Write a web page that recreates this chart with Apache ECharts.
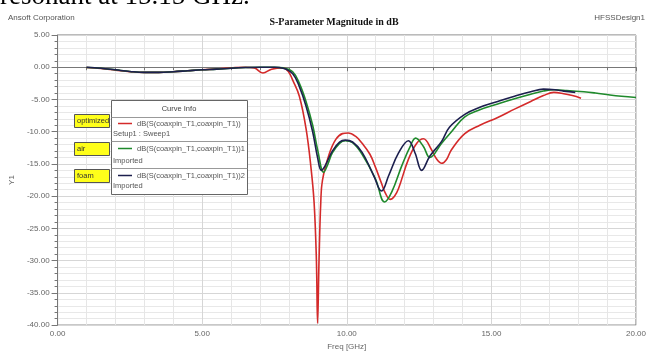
<!DOCTYPE html>
<html><head><meta charset="utf-8">
<script src="https://cdn.jsdelivr.net/npm/echarts@6/dist/echarts.min.js"></script>
<style>html,body{margin:0;padding:0;background:#fff}#c{width:649px;height:356px}</style>
</head><body><div id="c"></div>
<script>
// ---- data ----
const xTicks = ['0.00','5.00','10.00','15.00','20.00'];
const seriesNames = ['optimized','air','foam'];
const curveLabels = ['dB(S(coaxpin_T1,coaxpin_T1))','dB(S(coaxpin_T1,coaxpin_T1))1','dB(S(coaxpin_T1,coaxpin_T1))2'];
const curveSub = ['Setup1 : Sweep1','Imported','Imported'];

const freqOptimized = [1.0,1.5,2.0,2.5,3.0,3.5,4.0,4.5,5.0,5.5,6.0,6.5,6.8,7.1,7.4,7.8,8.0,8.13,8.36,8.59,8.76,8.87,8.95,8.99,9.04,9.1,9.16,9.39,9.62,9.85,10.05,10.3,10.53,10.8,10.99,11.2,11.33,11.5,11.65,11.79,12.13,12.42,12.65,12.93,13.1,13.28,13.45,13.62,14.08,14.6,15.22,15.8,16.36,16.8,17.16,17.5,17.8,18.1];
const dbOptimized = [-0.05,-0.2,-0.45,-0.7,-0.8,-0.8,-0.7,-0.55,-0.4,-0.25,-0.1,0.0,-0.1,-0.9,-0.3,-0.1,-0.8,-2.0,-4.5,-9.5,-15.5,-21,-30,-39.7,-30,-21,-17.5,-13.5,-11.2,-10.3,-10.2,-10.7,-11.8,-13.5,-15.5,-18,-19.5,-20.5,-20.0,-18.8,-14.3,-11.8,-11.1,-12.8,-14.2,-14.9,-14.3,-12.8,-10.3,-9.0,-7.8,-6.5,-5.3,-4.4,-3.9,-4.1,-4.4,-4.8];

const freqAir = [1.0,1.5,2.0,2.5,3.0,3.5,4.0,4.5,5.0,5.5,6.0,6.5,7.0,7.5,7.8,8.13,8.36,8.59,8.82,9.0,9.2,9.35,9.5,9.75,9.95,10.2,10.53,10.99,11.31,11.56,11.9,12.19,12.38,12.65,12.87,13.28,13.62,14.08,14.6,15.22,15.8,16.36,16.8,17.16,17.6,18.2,18.6,19.1,19.5,20.0];
const dbAir = [-0.05,-0.15,-0.4,-0.65,-0.8,-0.8,-0.7,-0.55,-0.4,-0.3,-0.15,-0.05,0.0,0.0,-0.1,-0.7,-2.5,-5.3,-9.0,-13.0,-16.3,-15.0,-13.3,-11.8,-11.4,-11.7,-13.5,-17.3,-20.9,-19.3,-15.3,-12.3,-11.0,-12.3,-14.0,-11.8,-10.0,-7.7,-6.6,-5.7,-4.9,-4.2,-3.7,-3.5,-3.6,-3.8,-4.0,-4.3,-4.5,-4.7];

const freqFoam = [1.0,1.5,2.0,2.5,3.0,3.5,4.0,4.5,5.0,5.5,6.0,6.5,7.0,7.5,7.8,8.13,8.36,8.59,8.82,8.99,9.12,9.25,9.5,9.75,9.95,10.2,10.53,10.93,11.2,11.45,11.79,12.13,12.36,12.59,12.87,13.28,13.55,14.08,14.6,15.22,15.8,16.36,16.8,17.2,17.5,17.9];
const dbFoam = [0.0,-0.15,-0.4,-0.65,-0.8,-0.8,-0.7,-0.55,-0.4,-0.3,-0.15,-0.05,0.0,0.0,-0.15,-1.0,-3.0,-6.0,-10.0,-14.0,-16.0,-15.3,-13.0,-11.6,-11.3,-11.6,-13.2,-16.8,-19.2,-16.8,-13.3,-11.4,-13.3,-16.0,-13.8,-11.5,-9.3,-7.3,-6.2,-5.3,-4.5,-3.8,-3.4,-3.5,-3.7,-3.9];

const colors = ['#d42a2a','#1f8a2c','#1c1f4e'];
const zip = (f, v) => f.map((x, i) => [x, v[i]]);

const chart = echarts.init(document.getElementById('c'), null, {renderer:'canvas'});
const lblFont = {fontFamily:'Liberation Sans', fontSize:8, color:'#666'};

function txt(x, y, s, font, fill, align) {
  return {type:'text', x:x, y:y, z:10, style:{text:s, font:font, fill:fill, textAlign:align||'left', textVerticalAlign:'middle', align:align||'left', verticalAlign:'middle'}};
}

const graphics = [
  {type:'text', x:0, y:10, style:{text:'resonant at 15.15 GHz.', font:'27px "Liberation Serif"', fill:'#000', textVerticalAlign:'bottom', verticalAlign:'bottom'}},
  txt(8, 18, 'Ansoft Corporation', '8px "Liberation Sans"', '#555'),
  txt(645, 18, 'HFSSDesign1', '8px "Liberation Sans"', '#555', 'right'),
  txt(334, 22, 'S-Parameter Magnitude in dB', 'bold 10px "Liberation Serif"', '#111', 'center'),
  // legend box
  {type:'rect', z:5, shape:{x:111.5, y:100.5, width:136, height:94}, style:{fill:'#fff', stroke:'#666', lineWidth:1}},
  {type:'line', z:6, shape:{x1:111.5,y1:117.5,x2:247.5,y2:117.5}, style:{stroke:'#999'}},
  {type:'line', z:6, shape:{x1:111.5,y1:141.5,x2:247.5,y2:141.5}, style:{stroke:'#999'}},
  {type:'line', z:6, shape:{x1:111.5,y1:168.5,x2:247.5,y2:168.5}, style:{stroke:'#999'}},
  txt(179, 109, 'Curve Info', '7.5px "Liberation Sans"', '#444', 'center')
];
const rowLineY = [123.5, 148.5, 175.5];
const rowSubY = [134, 161, 186];
const boxY = [114, 142, 169];
for (let i = 0; i < 3; i++) {
  graphics.push({type:'line', z:6, shape:{x1:118,y1:rowLineY[i],x2:132,y2:rowLineY[i]}, style:{stroke:colors[i], lineWidth:1.5}});
  graphics.push(txt(137, rowLineY[i], curveLabels[i], '7.5px "Liberation Sans"', '#555'));
  graphics.push(txt(113, rowSubY[i], curveSub[i], '7.5px "Liberation Sans"', '#555'));
  graphics.push({type:'rect', z:5, shape:{x:74.5, y:boxY[i]+0.5, width:35, height:13}, style:{fill:'#ffff1a', stroke:'#555', lineWidth:1}});
  graphics.push(txt(77, boxY[i]+7, seriesNames[i], '7.5px "Liberation Sans"', '#333'));
}

chart.setOption({
  animation:false,
  backgroundColor:'#fff',
  grid:{left:53, right:13, top:35, bottom:21, show:true, borderColor:'#777', borderWidth:1},
  xAxis:{type:'value', min:0, max:20, interval:5,
    name:'Freq [GHz]', nameLocation:'middle', nameGap:15, nameTextStyle:lblFont,
    axisLine:{show:true, lineStyle:{color:'#777'}},
    axisTick:{show:true, length:4, lineStyle:{color:'#777'}},
    minorTick:{show:true, splitNumber:5, length:3, lineStyle:{color:'#777'}},
    axisLabel:Object.assign({margin:5, formatter:v => v.toFixed(2)}, lblFont),
    splitLine:{show:true, lineStyle:{color:'#d6d6d6'}},
    minorSplitLine:{show:true, lineStyle:{color:'#e6e6e6'}}},
  yAxis:{type:'value', min:-40, max:5, interval:5,
    name:'Y1', nameLocation:'middle', nameGap:34, nameTextStyle:lblFont,
    axisLine:{show:true, lineStyle:{color:'#777'}},
    axisTick:{show:true, length:6, lineStyle:{color:'#777'}},
    minorTick:{show:true, splitNumber:5, length:3, lineStyle:{color:'#777'}},
    axisLabel:Object.assign({margin:8, formatter:v => v.toFixed(2)}, lblFont),
    splitLine:{show:true, lineStyle:{color:'#d6d6d6'}},
    minorSplitLine:{show:true, lineStyle:{color:'#e8e8e8'}}},
  series:[
    {name:seriesNames[1], type:'line', data:zip(freqAir, dbAir), smooth:0.4, showSymbol:false, lineStyle:{color:colors[1], width:1.6}, z:2},
    {name:seriesNames[2], type:'line', data:zip(freqFoam, dbFoam), smooth:0.4, showSymbol:false, lineStyle:{color:colors[2], width:1.6}, z:3},
    {name:seriesNames[0], type:'line', data:zip(freqOptimized, dbOptimized), smooth:0.4, showSymbol:false, lineStyle:{color:colors[0], width:1.6}, z:1}
  ],
  graphic:graphics
});
</script></body></html>
